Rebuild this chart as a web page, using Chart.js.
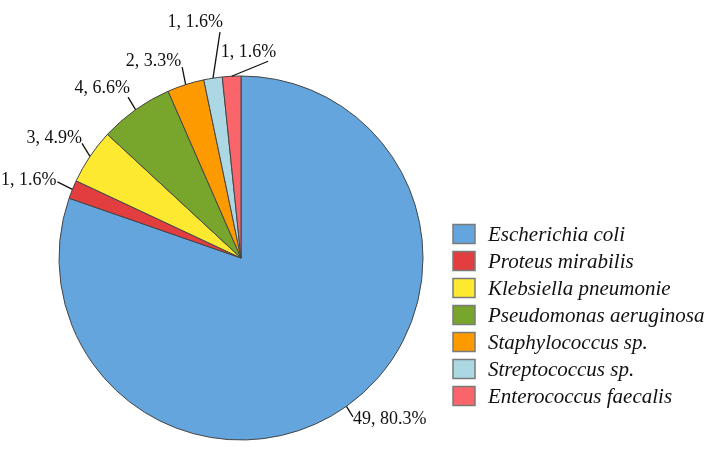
<!DOCTYPE html>
<html>
<head>
<meta charset="utf-8">
<script src="https://cdn.jsdelivr.net/npm/chart.js@4.4.1/dist/chart.umd.min.js"></script>
<style>
  body { margin: 0; background: #fff; }
  #wrap { width: 713px; height: 449px; }
</style>
</head>
<body>
<div id="wrap"><canvas id="myChart" width="713" height="449"></canvas></div>
<script>
// Datos
const especies = [
  "Escherichia coli",
  "Proteus mirabilis",
  "Klebsiella pneumonie",
  "Pseudomonas aeruginosa",
  "Staphylococcus sp.",
  "Streptococcus sp.",
  "Enterococcus faecalis"
];
const aislados = [49, 1, 3, 4, 2, 1, 1];
const porcentajes = ["80.3%", "1.6%", "4.9%", "6.6%", "3.3%", "1.6%", "1.6%"];

const colores = ["#63a5dc", "#e23d3f", "#fde930", "#78a62c", "#fd9a00", "#acd8e4", "#f9656b"];

// Posicion de etiquetas (fin de la linea guia y texto, relativo al borde del sector)
const etiquetasLayout = [
  { dx: 6.5, dy: 10.5, tx: 0, ty: 2, align: "left" },
  { dx: -15, dy: -7.5, tx: -1, ty: -2, align: "right" },
  { dx: -8, dy: -13, tx: 0, ty: -5.5, align: "right" },
  { dx: -7.5, dy: -12.5, tx: 2, ty: -9, align: "right" },
  { dx: -3.5, dy: -17.5, tx: -1, ty: -6, align: "right" },
  { dx: 7, dy: -46, tx: 3, ty: -10, align: "right" },
  { dx: 36.5, dy: -15, tx: 8, ty: -9, align: "right" }
];

// Etiquetas con lineas guia
const etiquetasPlugin = {
  id: "etiquetas",
  afterDatasetsDraw(chart) {
    const ctx = chart.ctx;
    const arcs = chart.getDatasetMeta(0).data;
    ctx.save();
    ctx.font = "18px 'Liberation Serif', 'Times New Roman', serif";
    ctx.fillStyle = "#111";
    ctx.strokeStyle = "#111";
    ctx.lineWidth = 1.3;
    ctx.textBaseline = "middle";
    arcs.forEach((arc, i) => {
      const p = arc.getProps(["x", "y", "startAngle", "endAngle", "outerRadius"], true);
      const mid = (p.startAngle + p.endAngle) / 2;
      const x0 = p.x + Math.cos(mid) * p.outerRadius;
      const y0 = p.y + Math.sin(mid) * p.outerRadius;
      const l = etiquetasLayout[i];
      const x1 = x0 + l.dx;
      const y1 = y0 + l.dy;
      ctx.beginPath();
      ctx.moveTo(x0, y0);
      ctx.lineTo(x1, y1);
      ctx.stroke();
      ctx.textAlign = l.align;
      ctx.fillText(aislados[i] + ", " + porcentajes[i], x1 + l.tx, y1 + l.ty);
    });
    ctx.restore();
  }
};

// Leyenda propia
const leyendaPlugin = {
  id: "leyenda",
  afterDraw(chart) {
    const ctx = chart.ctx;
    const x = 453, y = 234, paso = 27, caja = 22, alto = 19;
    ctx.save();
    ctx.font = "italic 21px 'Liberation Serif', 'Times New Roman', serif";
    ctx.textBaseline = "middle";
    ctx.textAlign = "left";
    especies.forEach((nombre, i) => {
      const cy = y + i * paso;
      ctx.fillStyle = colores[i];
      ctx.fillRect(x, cy - alto / 2, caja, alto);
      ctx.strokeStyle = "#7a7a7a";
      ctx.lineWidth = 1.5;
      ctx.strokeRect(x, cy - alto / 2, caja, alto);
      ctx.fillStyle = "#111";
      ctx.fillText(nombre, x + 35, cy + 1);
    });
    ctx.restore();
  }
};

const config = {
  type: "pie",
  data: {
    labels: especies,
    datasets: [
      {
        data: aislados,
        backgroundColor: colores,
        borderColor: "#454545",
        borderWidth: 1
      }
    ]
  },
  options: {
    responsive: false,
    animation: false,
    radius: 182,
    layout: { padding: { left: 59, right: 290, top: 76, bottom: 9 } },
    plugins: {
      legend: { display: false },
      tooltip: { enabled: false }
    }
  },
  plugins: [etiquetasPlugin, leyendaPlugin]
};

new Chart(document.getElementById("myChart"), config);
</script>
</body>
</html>
